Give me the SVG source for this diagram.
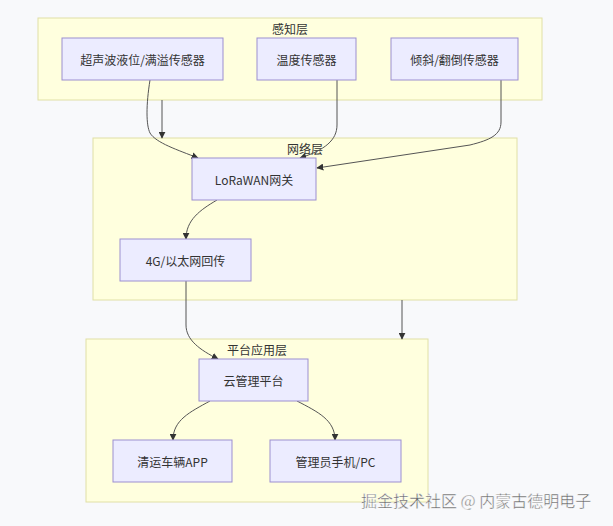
<svg xmlns="http://www.w3.org/2000/svg" width="613" height="526" viewBox="0 0 613 526">
<style>
.cl{fill:#ffffde;stroke:#e0e0a6;stroke-width:1}
.nd{fill:#ececff;stroke:#9c8fd0;stroke-width:1}
.t{font-family:"Noto Sans CJK SC","Liberation Sans",sans-serif;font-size:12px;fill:#333;text-anchor:middle;dominant-baseline:central}
.e{fill:none;stroke:#555;stroke-width:1;marker-end:url(#ah)}
.wm{font-family:"Noto Sans CJK SC","Liberation Sans",sans-serif;font-size:16px;fill:#666;stroke:#fff;stroke-width:0.4}
</style>
<defs>
<marker id="ah" viewBox="0 0 10 10" refX="9" refY="5" markerWidth="7" markerHeight="7" orient="auto" markerUnits="userSpaceOnUse">
<path d="M0,0 L10,5 L0,10 z" fill="#333"/>
</marker>
</defs>
<rect width="613" height="526" fill="#f8f9fb"/>
<g id="cluster-perception">
<rect class="cl" x="38" y="18" width="504" height="82"/>
<text class="t" x="290" y="28">感知层</text>
</g>
<g id="cluster-network">
<rect class="cl" x="93" y="138" width="424" height="162"/>
<text class="t" x="305" y="148">网络层</text>
</g>
<g id="cluster-platform">
<rect class="cl" x="86" y="339" width="342" height="163"/>
<text class="t" x="257" y="349">平台应用层</text>
</g>
<g id="connectors">
<path class="e" d="M150,80 C146,105 146,125 150,133 C156,143 178,150 198,158"/>
<path class="e" d="M162,100 L162,138"/>
<path class="e" d="M337,80 L337,125 C337,140 325,150 300,158"/>
<path class="e" d="M501,80 L501,122 C501,135 490,140 470,145 L317,168"/>
<path class="e" d="M217,200 C200,210 186,220 186,239"/>
<path class="e" d="M186,281 L186,325 C186,340 200,350 218,359"/>
<path class="e" d="M402,300 L402,339"/>
<path class="e" d="M210,401 C190,412 173,420 173,440"/>
<path class="e" d="M297,401 C318,412 335,420 335,440"/>
</g>
<g id="n-ultrasonic">
<rect class="nd" x="62" y="38" width="161" height="42"/>
<text class="t" x="142.5" y="59">超声波液位/满溢传感器</text>
</g>
<g id="n-temp">
<rect class="nd" x="257" y="38" width="99" height="42"/>
<text class="t" x="306.5" y="59">温度传感器</text>
</g>
<g id="n-tilt">
<rect class="nd" x="391" y="38" width="127" height="42"/>
<text class="t" x="454.5" y="59">倾斜/翻倒传感器</text>
</g>
<g id="n-lorawan">
<rect class="nd" x="192" y="158" width="124" height="42"/>
<text class="t" x="254" y="179">LoRaWAN网关</text>
</g>
<g id="n-4g">
<rect class="nd" x="120" y="239" width="131" height="42"/>
<text class="t" x="185.5" y="260">4G/以太网回传</text>
</g>
<g id="n-cloud">
<rect class="nd" x="199" y="359" width="109" height="42"/>
<text class="t" x="253.5" y="380">云管理平台</text>
</g>
<g id="n-app">
<rect class="nd" x="113" y="440" width="119" height="42"/>
<text class="t" x="172.5" y="461">清运车辆APP</text>
</g>
<g id="n-admin">
<rect class="nd" x="270" y="440" width="131" height="42"/>
<text class="t" x="335.5" y="461">管理员手机/PC</text>
</g>
<text class="wm" x="361" y="507">掘金技术社区 @ 内蒙古德明电子</text>
</svg>
